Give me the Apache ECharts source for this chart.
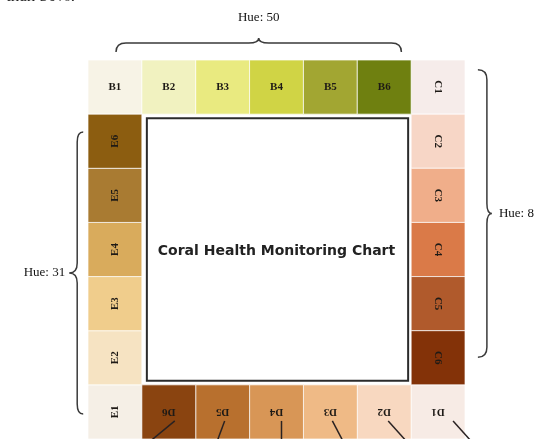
<!DOCTYPE html>
<html>
<head>
<meta charset="utf-8">
<script src="https://cdn.jsdelivr.net/npm/echarts@6/dist/echarts.min.js"></script>
<style>
html, body { margin: 0; padding: 0; background: #fff; }
#main { width: 544px; height: 439px; }
</style>
</head>
<body>
<div id="main"></div>
<script>
// ring of cells, one hue per side
var bLabels = ['B1', 'B2', 'B3', 'B4', 'B5', 'B6'];
var bColors = ['#f7f3e6', '#f1f2c0', '#e9ea80', '#d0d445', '#a2a632', '#6f8010'];
var cLabels = ['C1', 'C2', 'C3', 'C4', 'C5', 'C6'];
var cColors = ['#f6ecea', '#f7d6c6', '#f0ae8a', '#da7a48', '#b05a2c', '#833208'];
var dLabels = ['D1', 'D2', 'D3', 'D4', 'D5', 'D6'];
var dColors = ['#f7ebe5', '#f8d8c0', '#efba86', '#d89656', '#b8702e', '#8a4410'];
var eLabels = ['E1', 'E2', 'E3', 'E4', 'E5', 'E6'];
var eColors = ['#f5efe6', '#f6e3c2', '#f0cd8c', '#d9ab5c', '#a97b32', '#8c5d10'];
var hueLabels = ['Hue: 50', 'Hue: 8', 'Hue: 31'];
var centerTitle = 'Coral Health Monitoring Chart';

var dom = document.getElementById('main');
var myChart = echarts.init(dom);

// walk round the square clockwise: B top, C right, D bottom, E left
var cells = [];
for (var i = 0; i < 6; i++) {
    cells.push({ value: [i, 0], name: bLabels[i], color: bColors[i], rot: 0 });
    cells.push({ value: [6, i], name: cLabels[i], color: cColors[i], rot: -Math.PI / 2 });
    cells.push({ value: [6 - i, 6], name: dLabels[i], color: dColors[i], rot: Math.PI, leader: i });
    cells.push({ value: [0, 6 - i], name: eLabels[i], color: eColors[i], rot: Math.PI / 2 });
}

// leader ticks under the D labels (start / end offset from cell centre, px)
var leaderOffsets = [[15, 32], [4, 21], [2, 12], [5, 5], [2, -5], [6, -17]];

// brace spans in grid units, normal, depth, tip
var braceSpans = [
    { from: [0.52, -0.15], to: [5.82, -0.15], n: [0, -1], d: 9, t: 5 },
    { from: [7.24, 0.18], to: [7.24, 5.49], n: [1, 0], d: 9, t: 5 },
    { from: [-0.09, 1.33], to: [-0.09, 6.54], n: [-1, 0], d: 6, t: 8 }
];

function bracePath(p1, p2, n, d, t) {
    var len = Math.hypot(p2[0] - p1[0], p2[1] - p1[1]);
    var u = [(p2[0] - p1[0]) / len, (p2[1] - p1[1]) / len];
    var r = 10;
    function pt(base, a, b) {
        return [base[0] + n[0] * a + u[0] * b, base[1] + n[1] * a + u[1] * b];
    }
    var mid = [(p1[0] + p2[0]) / 2, (p1[1] + p2[1]) / 2];
    var s = function (p) { return p[0].toFixed(1) + ' ' + p[1].toFixed(1); };
    return 'M' + s(p1) +
        ' Q' + s(pt(p1, d, 0)) + ' ' + s(pt(p1, d, r)) +
        ' L' + s(pt(mid, d, -r)) +
        ' Q' + s(pt(mid, d, 0)) + ' ' + s(pt(mid, d + t, 0)) +
        ' Q' + s(pt(mid, d, 0)) + ' ' + s(pt(mid, d, r)) +
        ' L' + s(pt(p2, d, -r)) +
        ' Q' + s(pt(p2, d, 0)) + ' ' + s(p2);
}

option = {
    animation: false,
    backgroundColor: '#fff',
    grid: { left: 88, top: 60, width: 377, height: 380 },
    xAxis: { type: 'value', min: 0, max: 7, show: false },
    yAxis: { type: 'value', min: 0, max: 7, inverse: true, show: false },
    graphic: [{
        type: 'text', left: 6, top: -12,
        style: { text: 'than 50%.', font: '17px "Liberation Serif"', fill: '#222' }
    }],
    series: [
        {
            type: 'custom',
            name: 'cells',
            clip: false,
            data: cells,
            renderItem: function (params, api) {
                var c = cells[params.dataIndex];
                var p0 = api.coord([api.value(0), api.value(1)]);
                var p1 = api.coord([api.value(0) + 1, api.value(1) + 1]);
                var cx = (p0[0] + p1[0]) / 2, cy = (p0[1] + p1[1]) / 2;
                var kids = [{
                    type: 'rect',
                    shape: { x: p0[0], y: p0[1], width: p1[0] - p0[0], height: p1[1] - p0[1] },
                    style: { fill: c.color, stroke: 'rgba(255,255,255,0.7)', lineWidth: 1 }
                }, {
                    type: 'text', x: cx, y: cy, rotation: c.rot,
                    style: {
                        text: c.name, textAlign: 'center', textVerticalAlign: 'middle',
                        font: 'bold 11px "Liberation Serif"', fill: '#1e1a16'
                    }
                }];
                if (c.leader !== undefined) {
                    var o = leaderOffsets[c.leader];
                    kids.push({
                        type: 'line',
                        shape: { x1: cx + o[0], y1: cy + 9, x2: cx + o[1], y2: cy + 28 },
                        style: { stroke: '#2a2222', lineWidth: 1.5 }
                    });
                }
                return { type: 'group', children: kids };
            }
        },
        {
            type: 'custom',
            name: 'centre',
            clip: false,
            data: [[1, 1, 6, 6]],
            renderItem: function (params, api) {
                var a = api.coord([api.value(0), api.value(1)]);
                var b = api.coord([api.value(2), api.value(3)]);
                return {
                    type: 'group',
                    children: [{
                        type: 'rect',
                        shape: { x: a[0] + 5, y: a[1] + 4, width: b[0] - a[0] - 8, height: b[1] - a[1] - 8 },
                        style: { fill: '#fff', stroke: '#2b2b2b', lineWidth: 2 }
                    }, {
                        type: 'text', x: (a[0] + b[0]) / 2, y: (a[1] + b[1]) / 2 + 2,
                        style: {
                            text: centerTitle, textAlign: 'center', textVerticalAlign: 'middle',
                            font: 'bold 14px "DejaVu Sans"', fill: '#222'
                        }
                    }]
                };
            }
        },
        {
            type: 'custom',
            name: 'braces',
            clip: false,
            data: [0, 1, 2],
            renderItem: function (params, api) {
                var b = braceSpans[params.dataIndex];
                var p1 = api.coord(b.from), p2 = api.coord(b.to);
                var mid = [(p1[0] + p2[0]) / 2, (p1[1] + p2[1]) / 2];
                var tip = [mid[0] + b.n[0] * (b.d + b.t), mid[1] + b.n[1] * (b.d + b.t)];
                var txt;
                if (b.n[1] < 0) {
                    txt = { x: tip[0], y: tip[1] - 20, textAlign: 'center' };
                } else if (b.n[0] > 0) {
                    txt = { x: tip[0] + 7, y: tip[1], textAlign: 'left' };
                } else {
                    txt = { x: tip[0] - 4, y: tip[1], textAlign: 'right' };
                }
                return {
                    type: 'group',
                    children: [{
                        type: 'path',
                        shape: { pathData: bracePath(p1, p2, b.n, b.d, b.t) },
                        style: { fill: null, stroke: '#3a3a3a', lineWidth: 1.5 }
                    }, {
                        type: 'text', x: txt.x, y: txt.y,
                        style: {
                            text: hueLabels[params.dataIndex], textAlign: txt.textAlign,
                            textVerticalAlign: 'middle',
                            font: '13px "Liberation Serif"', fill: '#111'
                        }
                    }]
                };
            }
        }
    ]
};

if (option && typeof option === 'object') {
    myChart.setOption(option, true);
}
</script>
</body>
</html>
